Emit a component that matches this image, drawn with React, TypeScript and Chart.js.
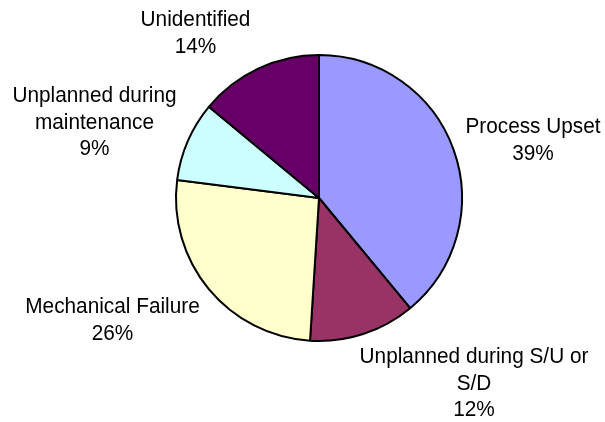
import React, { useEffect, useRef } from "react";
import { Chart, registerables } from "chart.js";

Chart.register(...registerables);

const categories: string[][] = [
  ["Process Upset"],
  ["Unplanned during S/U or", "S/D"],
  ["Mechanical Failure"],
  ["Unplanned during", "maintenance"],
  ["Unidentified"],
];
const values: number[] = [39, 12, 26, 9, 14];
const colors: string[] = ["#9999FF", "#993366", "#FFFFCC", "#CCFFFF", "#660066"];

// label block layout: centre x and first baseline, relative to pie centre
const labelLayout = [
  { dx: 214, dy: -65 },
  { dx: 155, dy: 165 },
  { dx: -206.5, dy: 115 },
  { dx: -224.5, dy: -96 },
  { dx: -123.5, dy: -172 },
];

const FONT = '21px "Liberation Sans", Arial, sans-serif';
const LINE_H = 26.5;
const STRETCH_Y = 1.09;

const labelPlugin = {
  id: "outsideLabels",
  afterDraw(chart: any) {
    const meta = chart.getDatasetMeta(0);
    if (!meta || !meta.data.length) return;
    const arc = meta.data[0];
    const cx = arc.x;
    const cy = arc.y;
    const total = values.reduce((a, b) => a + b, 0);
    const ctx = chart.ctx;
    categories.forEach((lines, i) => {
      const lay = labelLayout[i];
      const all = [...lines, Math.round((values[i] / total) * 100) + "%"];
      all.forEach((t, j) => {
        ctx.save();
        ctx.font = FONT;
        ctx.fillStyle = "#000000";
        ctx.textAlign = "center";
        ctx.textBaseline = "alphabetic";
        ctx.translate(cx + lay.dx, cy + lay.dy + j * LINE_H);
        ctx.scale(0.99, STRETCH_Y);
        ctx.fillText(t, 0, 0);
        ctx.restore();
      });
    });
  },
};

export default function App() {
  const ref = useRef<HTMLCanvasElement | null>(null);
  useEffect(() => {
    if (!ref.current) return;
    const chart = new Chart(ref.current, {
      type: "pie",
      data: {
        labels: categories.map((c) => c.join(" ")),
        datasets: [
          {
            data: values,
            backgroundColor: colors,
            borderColor: "#000000",
            borderWidth: 2,
          },
        ],
      },
      options: {
        responsive: false,
        animation: false,
        radius: 143,
        layout: { padding: { left: 33, right: 0, top: 0, bottom: 26 } },
        plugins: {
          legend: { display: false },
          tooltip: { enabled: false },
        },
      } as any,
      plugins: [labelPlugin],
    });
    return () => chart.destroy();
  }, []);
  return (
    <div style={{ position: "fixed", left: 0, top: 0, width: 605, height: 422, background: "#ffffff" }}>
      <canvas ref={ref} width={605} height={422} style={{ width: 605, height: 422, display: "block" }} />
    </div>
  );
}
